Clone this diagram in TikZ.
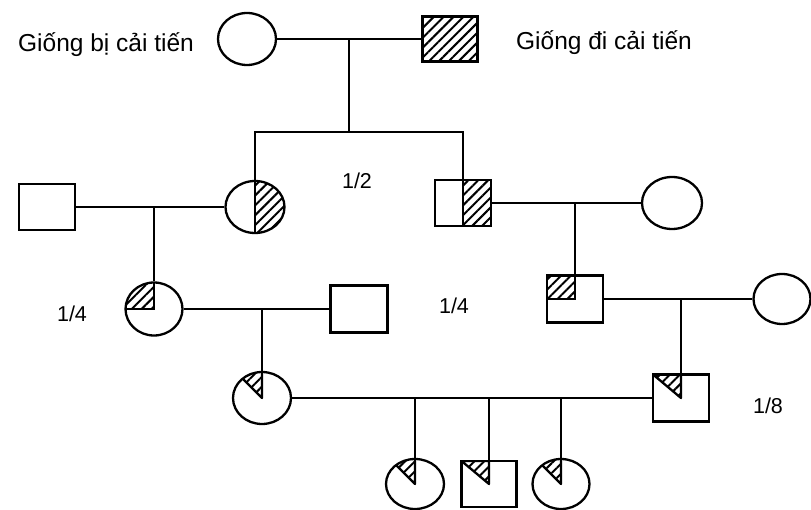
\documentclass[tikz,border=0pt]{standalone}
\usepackage{fontspec}
\setmainfont{Liberation Sans}
\usetikzlibrary{shapes.geometric,patterns.meta,calc}
\begin{document}
\begin{tikzpicture}[x=1pt,y=-1pt,
  lw/.style={line width=2.3pt},
  hatch/.style={pattern={Lines[angle=45,distance=7pt,line width=2pt]}},
  fem/.style={draw, ellipse, lw, inner sep=0pt, minimum width=58pt, minimum height=52pt},
  mal/.style={draw, rectangle, lw, inner sep=0pt, minimum width=56pt, minimum height=46pt},
  half/.style={path picture={
    \fill[hatch] (path picture bounding box.north) rectangle (path picture bounding box.south east);
    \draw[lw] (path picture bounding box.north) -- (path picture bounding box.south);}},
  quarter/.style={path picture={
    \fill[hatch] (path picture bounding box.north west) rectangle (path picture bounding box.center);
    \draw[lw] (path picture bounding box.north) -- (path picture bounding box.center) -- (path picture bounding box.west);}},
  eighthsq/.style={path picture={
    \filldraw[hatch,lw,line join=round] (path picture bounding box.north west) -- (path picture bounding box.north) -- (path picture bounding box.center) -- cycle;}},
  eighthc/.style={path picture={
    \filldraw[hatch,lw,line join=round] (path picture bounding box.center) -- ++(0pt,40pt) -- ++(-40pt,0pt) -- cycle;}},
  lbl/.style={anchor=base, font=\fontsize{24.5}{29}\selectfont},
  frac/.style={anchor=base, font=\fontsize{21.5}{26}\selectfont}
]
\useasboundingbox (0,0) rectangle (811,510);

% generation 0
\node[lbl] (tL) at (106,52) {Giống bị cải tiến};
\node[lbl] (tR) at (604,50) {Giống đi cải tiến};
\node[fem] (F0) at (247,39) {};
\node[mal, hatch, minimum width=55pt, minimum height=45pt] (M0) at (450,39) {};
\draw[lw] (F0) -- (M0);
\coordinate (m0) at ($(F0.east)!0.5!(M0.west)$);
\coordinate (s0) at (m0 |- 0,132);
\draw[lw] (m0) -- (s0);

% generation 1
\node[fem, half, minimum width=59pt] (F1) at (255,207) {};
\node[mal, half] (M1) at (463,203) {};
\draw[lw] (F1.north) |- (s0) -| (M1.north);
\node[frac] (h12) at (357,189) {1/2};

\node[mal] (MA) at (47,207) {};
\draw[lw] (MA) -- (F1);
\node[fem, minimum width=60pt] (FB) at (672,203) {};
\draw[lw] (M1) -- (FB);

% generation 2
\node[fem, quarter, minimum width=57pt, minimum height=53pt] (F2) at (154,309) {};
\draw[lw] (F2.north) -- (F2.north |- F1.west);
\node[frac] (q1) at (72,322) {1/4};
\node[mal, minimum width=57pt, minimum height=47pt] (MD) at (359,309) {};
\draw[lw] (F2) -- (MD);

\node[mal, quarter, minimum height=47pt] (M2) at (575,299) {};
\draw[lw] (M2.north) -- (M2.north |- M1.east);
\node[frac] (q2) at (454,314) {1/4};
\node[fem, minimum width=57pt, minimum height=50pt] (FC) at (782,299) {};
\draw[lw] (M2) -- (FC);

% generation 3
\node[fem, eighthc] (F4) at (262,398) {};
\draw[lw] (F4.north) -- (F4.north |- F2.east);
\node[mal, eighthsq, minimum height=47pt] (M3) at (681,398) {};
\draw[lw] (M3.north) -- (M3.north |- M2.east);
\node[frac] (e8) at (768,413) {1/8};
\draw[lw] (F4) -- (M3);

% generation 4
\node[fem, eighthc, minimum height=50pt] (G1) at (415,484) {};
\node[mal, eighthsq, minimum width=55pt] (G2) at (489,484) {};
\node[fem, eighthc, minimum width=57pt, minimum height=50pt] (G3) at (561,484) {};
\draw[lw] (G1.north) -- (G1.north |- F4.east);
\draw[lw] (G2.north) -- (G2.north |- F4.east);
\draw[lw] (G3.north) -- (G3.north |- F4.east);
\end{tikzpicture}
\end{document}
